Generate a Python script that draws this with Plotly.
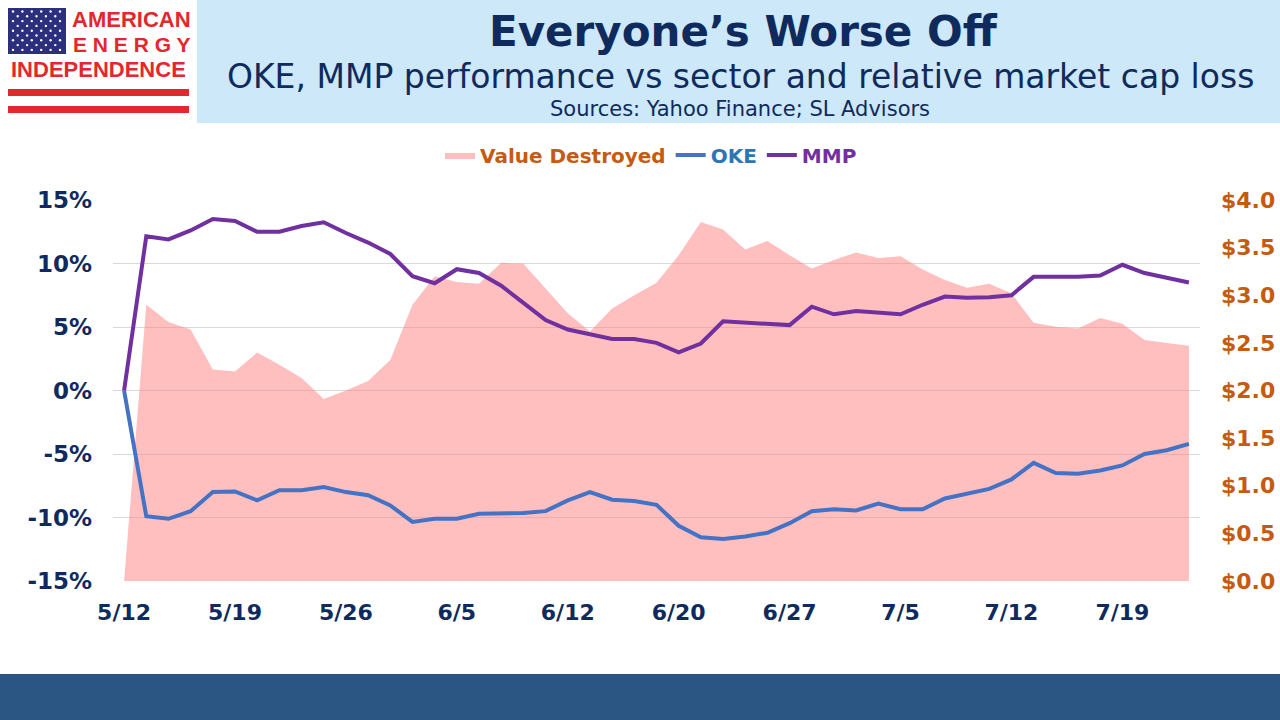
import plotly.graph_objects as go

# trading days 5/12 .. 7/24
dates = ["5/12", "5/15", "5/16", "5/17", "5/18", "5/19", "5/22", "5/23", "5/24", "5/25",
         "5/26", "5/30", "5/31", "6/1", "6/2", "6/5", "6/6", "6/7", "6/8", "6/9",
         "6/12", "6/13", "6/14", "6/15", "6/16", "6/20", "6/21", "6/22", "6/23", "6/26",
         "6/27", "6/28", "6/29", "6/30", "7/3", "7/5", "7/6", "7/7", "7/10", "7/11",
         "7/12", "7/13", "7/14", "7/17", "7/18", "7/19", "7/20", "7/21", "7/24"]

oke = [0.0, -9.9, -10.1, -9.5, -8.0, -7.95, -8.65, -7.85, -7.85, -7.6,
       -8.0, -8.25, -9.05, -10.35, -10.1, -10.1, -9.7, -9.7, -9.65, -9.5,
       -8.65, -8.0, -8.6, -8.7, -9.0, -10.65, -11.55, -11.7, -11.5, -11.2,
       -10.45, -9.5, -9.35, -9.45, -8.9, -9.35, -9.35, -8.5, -8.1, -7.75,
       -7.0, -5.7, -6.5, -6.55, -6.3, -5.9, -5.0, -4.7, -4.2]

mmp = [0.0, 12.15, 11.9, 12.6, 13.5, 13.35, 12.5, 12.5, 12.95, 13.25,
       12.4, 11.65, 10.75, 9.0, 8.45, 9.55, 9.25, 8.25, 6.9, 5.55,
       4.8, 4.4, 4.05, 4.05, 3.75, 3.0, 3.7, 5.45, 5.35, 5.3,
       5.15, 6.6, 6.0, 6.25, 6.15, 6.0, 6.75, 7.4, 7.3, 7.35,
       7.5, 8.95, 8.95, 8.95, 9.05, 9.9, 9.25, 8.9, 8.5]

value_destroyed = [0.0, 2.9, 2.72, 2.64, 2.22, 2.2, 2.4, 2.27, 2.13, 1.91,
                   2.0, 2.1, 2.32, 2.9, 3.2, 3.14, 3.12, 3.34, 3.33, 3.07,
                   2.81, 2.62, 2.86, 3.0, 3.13, 3.42, 3.77, 3.69, 3.48, 3.57,
                   3.42, 3.28, 3.37, 3.45, 3.39, 3.41, 3.27, 3.16, 3.08, 3.12,
                   3.02, 2.71, 2.67, 2.65, 2.76, 2.7, 2.53, 2.5, 2.47]

tick_labels = ["5/12", "5/19", "5/26", "6/5", "6/12", "6/20", "6/27", "7/5", "7/12", "7/19"]
pct_ticks = [-15, -10, -5, 0, 5, 10, 15]
pct_labels = ["-15%", "-10%", "-5%", "0%", "5%", "10%", "15%"]

NAVY = "#0f2a5c"
ORANGE = "#c55a11"
RED = "#e2272e"

# plot area in pixels: x 113..1200, y 200..581
def px(x):
    return (x - 113) / 1087

def py(y):
    return (581 - y) / 381

fig = go.Figure()
fig.add_trace(go.Scatter(
    x=dates, y=value_destroyed, yaxis="y", mode="lines",
    fill="tozeroy", fillcolor="rgba(255,127,127,0.5)",
    line=dict(width=0, color="rgba(255,127,127,0.5)"),
    name="<span style='color:%s'>Value Destroyed</span>" % ORANGE))
fig.add_trace(go.Scatter(
    x=dates, y=oke, yaxis="y2", mode="lines",
    line=dict(color="#4472c4", width=4),
    name="<span style='color:#2e75b6'>OKE</span>"))
fig.add_trace(go.Scatter(
    x=dates, y=mmp, yaxis="y2", mode="lines",
    line=dict(color="#7030a0", width=4),
    name="<span style='color:#7030a0'>MMP</span>"))

shapes = [
    # header box
    dict(type="rect", xref="paper", yref="paper", x0=px(197), x1=px(1280), y0=py(0), y1=py(123),
         fillcolor="#cde8f9", line_width=0, layer="below"),
    # bottom bar
    dict(type="rect", xref="paper", yref="paper", x0=px(0), x1=px(1280), y0=py(674), y1=py(720),
         fillcolor="#2b5684", line_width=0, layer="below"),
    # logo flag
    dict(type="rect", xref="paper", yref="paper", x0=px(8), x1=px(66), y0=py(8), y1=py(54),
         fillcolor="#2b2f7e", line_width=0, layer="below"),
    # logo stripes
    dict(type="rect", xref="paper", yref="paper", x0=px(8), x1=px(189), y0=py(89), y1=py(96),
         fillcolor=RED, line_width=0, layer="below"),
    dict(type="rect", xref="paper", yref="paper", x0=px(8), x1=px(189), y0=py(106), y1=py(113),
         fillcolor=RED, line_width=0, layer="below"),
]
# stars on the flag
for row in range(9):
    cy = 11.5 + row * 4.8
    n = 6 if row % 2 == 0 else 5
    start = 13 if row % 2 == 0 else 17.7
    for k in range(n):
        cx = start + k * 9.4
        shapes.append(dict(type="circle", xref="paper", yref="paper",
                           x0=px(cx - 1.2), x1=px(cx + 1.2), y0=py(cy + 1.2), y1=py(cy - 1.2),
                           fillcolor="white", line_width=0))

def label(text, x, y, size, color, bold=False, family="DejaVu Sans"):
    return dict(text=text, xref="paper", yref="paper", x=px(x), y=py(y),
                xanchor="center", yanchor="middle", showarrow=False,
                font=dict(size=size, color=color, family=family,
                          weight="bold" if bold else "normal"))

annotations = [
    label("Everyone’s Worse Off", 743, 31, 42, NAVY, bold=True),
    label("OKE, MMP performance vs sector and relative market cap loss", 740, 77, 33, NAVY),
    label("Sources: Yahoo Finance; SL Advisors", 740, 109, 21, NAVY),
    label("AMERICAN", 131, 20, 22, RED, bold=True, family="Liberation Sans"),
    label("E N E R G Y", 131, 44, 21, RED, bold=True, family="Liberation Sans"),
    label("INDEPENDENCE", 98, 69, 22, RED, bold=True, family="Liberation Sans"),
]

fig.update_layout(
    width=1280, height=720, autosize=False,
    margin=dict(l=113, r=80, t=200, b=139, autoexpand=False),
    paper_bgcolor="white", plot_bgcolor="white",
    font=dict(family="DejaVu Sans", color=NAVY),
    showlegend=True,
    legend=dict(orientation="h", x=px(651), xanchor="center", y=py(155), yanchor="middle",
                font=dict(size=20, family="DejaVu Sans", weight="bold"),
                bgcolor="rgba(0,0,0,0)", traceorder="normal"),
    xaxis=dict(type="category", range=[-0.5, len(dates) - 0.5], automargin=False,
               tickvals=tick_labels, ticktext=tick_labels,
               showgrid=False, zeroline=False, showline=False, ticks="",
               ticklabelstandoff=16,
               tickfont=dict(size=22, color=NAVY, family="DejaVu Sans", weight="bold")),
    yaxis=dict(side="right", range=[0, 4], dtick=0.5, tickprefix="$", tickformat=".1f",
               automargin=False,
               showgrid=False, zeroline=False, showline=False, ticks="",
               ticklabelstandoff=20,
               tickfont=dict(size=22, color=ORANGE, family="DejaVu Sans", weight="bold")),
    yaxis2=dict(overlaying="y", side="left", range=[-15, 15], automargin=False,
                tickvals=pct_ticks, ticktext=pct_labels,
                showgrid=True, gridcolor="#d9d9d9", gridwidth=1, zeroline=False,
                showline=False, ticks="", ticklabelstandoff=20,
                tickfont=dict(size=23, color=NAVY, family="DejaVu Sans", weight="bold")),
    shapes=shapes,
    annotations=annotations,
)

fig.write_html("out.html",
               config={"displayModeBar": False, "responsive": False},
               post_script="document.body.style.margin='0';document.body.style.overflow='hidden';")
